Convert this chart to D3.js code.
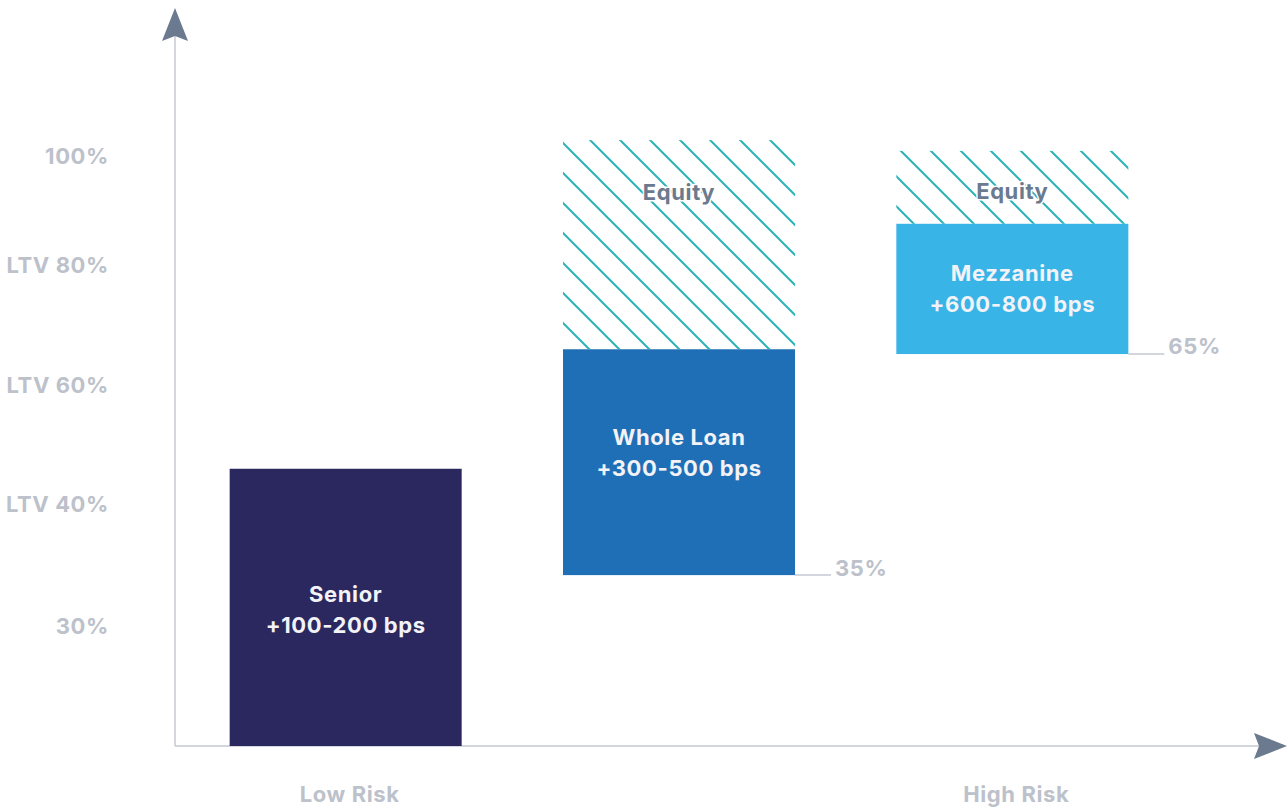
<!DOCTYPE html>
<html>
<head>
<meta charset="utf-8">
<script src="https://cdn.jsdelivr.net/npm/d3@7"></script>
<style>
  body { margin: 0; background: #fff; }
  svg { display: block; font-family: Inter, "Noto Sans", sans-serif; font-weight: 700; letter-spacing: 0.6px; }
</style>
</head>
<body>
<div id="chart"></div>
<script>
// tranches, left (low risk) to right (high risk)
var tranches = ["Senior", "Whole Loan", "Mezzanine"];
var spreads = ["+100-200 bps", "+300-500 bps", "+600-800 bps"];
// debt block bottom/top, in "level" units of the y axis
var debtLow = [0, 1.43, 3.28];
var debtHigh = [2.32, 3.32, 4.37];
// equity slice above the debt (null = none)
var equityHigh = [null, 5.07, 4.98];
// ltv markers next to bottom of the block
var ltvNotes = [null, "35%", "65%"];
var colors = ["#2a285e", "#1f6fb6", "#38b4e7"];

var tickLevels = [1, 2.02, 3.02, 4.02, 4.93];
var tickLabels = ["30%", "LTV 40%", "LTV 60%", "LTV 80%", "100%"];
var riskLabels = ["Low Risk", "", "High Risk"];

var width = 1288, height = 807;
var originX = 175, originY = 746;
var fs = "22px";

var svg = d3.select("#chart").append("svg")
  .attr("width", width)
  .attr("height", height);

// hatching for equity
var defs = svg.append("defs");
var pat = defs.append("pattern")
  .attr("id", "hatch")
  .attr("patternUnits", "userSpaceOnUse")
  .attr("width", 30)
  .attr("height", 30);
pat.append("path")
  .attr("d", "M-8,-8L38,38M-8,22L8,38M22,-8L38,8")
  .attr("stroke", "#2bb3b6")
  .attr("stroke-width", 2);

var x = d3.scaleBand()
  .domain(tranches)
  .range([178, 1180])
  .paddingInner(0.304)
  .paddingOuter(0.155);

var y = d3.scaleLinear()
  .domain([0, 1])
  .range([originY, originY - 119.5]);

// y tick labels (no tick marks)
var yAxis = d3.axisLeft(y)
  .tickValues(tickLevels)
  .tickFormat((d, i) => tickLabels[i])
  .tickSize(0)
  .tickPadding(0);

svg.append("g")
  .attr("class", "y axis")
  .attr("transform", "translate(109,0)")
  .call(yAxis)
  .call(g => g.select(".domain").remove())
  .selectAll("text")
  .attr("fill", "#bcc1ca")
  .style("font-size", fs)
  .style("font-family", "Inter, 'Noto Sans', sans-serif")
  .style("font-weight", 700)
  .style("letter-spacing", "0.6px");

// axis lines
svg.append("line")
  .attr("x1", originX).attr("x2", originX)
  .attr("y1", originY).attr("y2", 34)
  .attr("stroke", "#c4c8d0").attr("stroke-width", 1.5);
svg.append("line")
  .attr("x1", originX).attr("x2", 1262)
  .attr("y1", originY).attr("y2", originY)
  .attr("stroke", "#c4c8d0").attr("stroke-width", 1.5);

// arrowheads
svg.append("path")
  .attr("d", `M${originX},8L${originX - 13},41L${originX},36L${originX + 13},41Z`)
  .attr("fill", "#6b7a8e");
svg.append("path")
  .attr("d", `M1287,${originY}L1254,${originY - 13}L1259,${originY}L1254,${originY + 13}Z`)
  .attr("fill", "#6b7a8e");

var idx = d3.range(tranches.length);

// equity blocks
var eq = idx.filter(i => equityHigh[i] != null);
svg.append("g").selectAll("rect")
  .data(eq)
  .enter()
  .append("rect")
  .attr("x", i => x(tranches[i]))
  .attr("width", x.bandwidth())
  .attr("y", i => y(equityHigh[i]))
  .attr("height", i => y(debtHigh[i]) - y(equityHigh[i]))
  .attr("fill", "url(#hatch)");

svg.append("g").selectAll("text")
  .data(eq)
  .enter()
  .append("text")
  .attr("x", i => x(tranches[i]) + x.bandwidth() / 2)
  .attr("y", i => {
    var top = y(equityHigh[i]);
    var h = y(debtHigh[i]) - top;
    return top + Math.min(52, h / 2 + 4);
  })
  .attr("dy", "0.35em")
  .attr("text-anchor", "middle")
  .attr("fill", "#6b7a8e")
  .attr("stroke", "#fff")
  .attr("stroke-width", 3)
  .attr("paint-order", "stroke")
  .style("font-size", fs)
  .text("Equity");

// debt blocks
svg.append("g").selectAll("rect")
  .data(idx)
  .enter()
  .append("rect")
  .attr("x", i => x(tranches[i]))
  .attr("width", x.bandwidth())
  .attr("y", i => y(debtHigh[i]))
  .attr("height", i => y(debtLow[i]) - y(debtHigh[i]))
  .attr("fill", i => colors[i]);

// block labels: name + spread
var lbl = svg.append("g").selectAll("text")
  .data(idx)
  .enter()
  .append("text")
  .attr("text-anchor", "middle")
  .attr("fill", "#f2f2f7")
  .style("font-size", fs)
  .attr("transform", i => {
    var top = y(debtHigh[i]);
    var cy = (y(debtLow[i]) + top) / 2 + 2;
    // floating blocks keep the label near their top
    if (debtLow[i] > 0) cy = Math.min(cy - 2, top + 104);
    return `translate(${x(tranches[i]) + x.bandwidth() / 2},${cy})`;
  });
lbl.append("tspan").attr("x", 0).attr("y", -15.5).attr("dy", "0.35em").text(i => tranches[i]);
lbl.append("tspan").attr("x", 0).attr("y", 15.5).attr("dy", "0.35em").text(i => spreads[i]);

// ltv markers
var notes = idx.filter(i => ltvNotes[i] != null);
var ng = svg.append("g").selectAll("g")
  .data(notes)
  .enter()
  .append("g")
  .attr("transform", i => `translate(${x(tranches[i]) + x.bandwidth()},${y(debtLow[i])})`);
ng.append("line")
  .attr("x1", 0).attr("x2", 36)
  .attr("stroke", "#c4c8d0").attr("stroke-width", 1.5);
ng.append("text")
  .attr("x", 40)
  .attr("y", 0)
  .attr("dy", "0.02em")
  .attr("fill", "#bcc1ca")
  .style("font-size", fs)
  .text(i => ltvNotes[i]);

// risk labels under the x axis
svg.append("g").selectAll("text")
  .data(idx.filter(i => riskLabels[i]))
  .enter()
  .append("text")
  .attr("x", i => x(tranches[i]) + x.bandwidth() / 2 + 4)
  .attr("y", 794)
  .attr("dy", "0.35em")
  .attr("text-anchor", "middle")
  .attr("fill", "#bcc1ca")
  .style("font-size", fs)
  .text(i => riskLabels[i]);
</script>
</body>
</html>
